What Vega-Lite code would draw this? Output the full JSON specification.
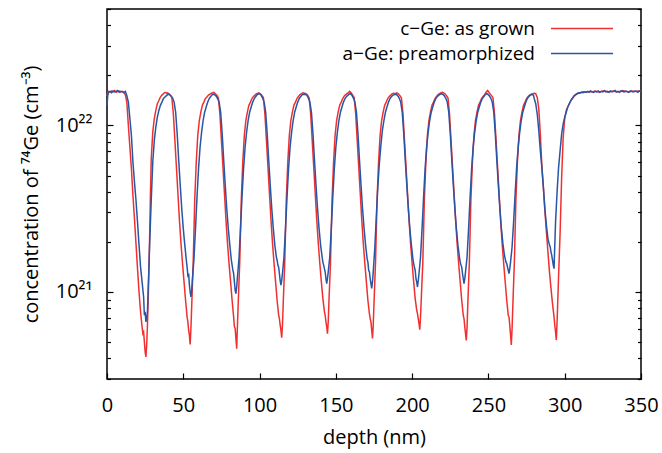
{
"$schema":"https://vega.github.io/schema/vega-lite/v6.json",
"width":534,"height":370,
"autosize":"none",
"padding":{"left":107,"top":9,"right":21,"bottom":74},
"background":"white",
"config":{"font":"Open Sans","view":{"stroke":"#000","strokeWidth":1.5},
"axis":{"domain":false,"grid":false,"labelFontSize":20,"titleFontSize":20,"titleFontWeight":"normal","labelColor":"#000","titleColor":"#000","tickColor":"#000","tickWidth":1.2,"labelFont":"Open Sans","titleFont":"Open Sans"}},
"datasets":{
"ge_c":[
{"depth":0,"conc":1.50e22},{"depth":0.5,"conc":1.57e22},{"depth":1,"conc":1.60e22},{"depth":2,"conc":1.58e22},{"depth":3,"conc":1.61e22},{"depth":4,"conc":1.59e22},{"depth":5,"conc":1.62e22},{"depth":6,"conc":1.58e22},{"depth":7,"conc":1.60e22},{"depth":8,"conc":1.61e22},{"depth":9,"conc":1.59e22},{"depth":10,"conc":1.60e22},{"depth":11,"conc":1.57e22},{"depth":12,"conc":1.53e22},{"depth":13,"conc":1.38e22},{"depth":14,"conc":1.00e22},{"depth":15,"conc":7.41e21},{"depth":16,"conc":5.50e21},{"depth":17,"conc":3.80e21},{"depth":18,"conc":2.75e21},{"depth":19,"conc":1.95e21},{"depth":20,"conc":1.38e21},{"depth":21,"conc":1.00e21},{"depth":22,"conc":7.59e20},{"depth":23,"conc":6.17e20},{"depth":23.5,"conc":5.62e20},{"depth":24,"conc":5.75e20},{"depth":24.5,"conc":5.01e20},{"depth":25,"conc":4.37e20},{"depth":25.5,"conc":4.07e20},{"depth":26,"conc":4.79e20},{"depth":26.5,"conc":6.31e20},{"depth":27,"conc":8.91e20},{"depth":27.5,"conc":1.41e21},{"depth":28,"conc":2.24e21},{"depth":28.5,"conc":3.98e21},{"depth":29,"conc":6.31e21},{"depth":30,"conc":9.12e21},{"depth":31,"conc":1.10e22},{"depth":32,"conc":1.23e22},{"depth":33,"conc":1.35e22},{"depth":34,"conc":1.41e22},{"depth":35,"conc":1.48e22},{"depth":36,"conc":1.52e22},{"depth":37,"conc":1.55e22},{"depth":38,"conc":1.58e22},{"depth":39,"conc":1.56e22},
{"depth":39.5,"conc":1.57e22},{"depth":40.5,"conc":1.55e22},{"depth":41.5,"conc":1.52e22},{"depth":42.5,"conc":1.47e22},{"depth":43.5,"conc":1.17e22},{"depth":44.5,"conc":8.13e21},{"depth":45.5,"conc":5.62e21},{"depth":46.5,"conc":3.89e21},{"depth":47.5,"conc":2.69e21},{"depth":48.5,"conc":1.95e21},{"depth":49.5,"conc":1.48e21},{"depth":50.5,"conc":1.15e21},{"depth":51.5,"conc":8.91e20},{"depth":52.5,"conc":7.08e20},{"depth":53,"conc":6.61e20},{"depth":53.5,"conc":5.89e20},{"depth":54,"conc":5.50e20},{"depth":54.5,"conc":4.84e20},{"depth":55,"conc":6.03e20},{"depth":55.5,"conc":8.13e20},{"depth":56.5,"conc":1.51e21},{"depth":57.5,"conc":3.55e21},{"depth":58.5,"conc":6.03e21},{"depth":59.5,"conc":8.71e21},{"depth":60.5,"conc":1.07e22},{"depth":61.5,"conc":1.20e22},{"depth":62.5,"conc":1.32e22},{"depth":63.5,"conc":1.38e22},{"depth":64.5,"conc":1.45e22},{"depth":65.5,"conc":1.48e22},{"depth":66.5,"conc":1.52e22},{"depth":67.5,"conc":1.54e22},{"depth":68.5,"conc":1.56e22},
{"depth":70,"conc":1.58e22},{"depth":71,"conc":1.55e22},{"depth":72,"conc":1.52e22},{"depth":73,"conc":1.46e22},{"depth":74,"conc":1.17e22},{"depth":75,"conc":8.13e21},{"depth":76,"conc":5.62e21},{"depth":77,"conc":3.89e21},{"depth":78,"conc":2.69e21},{"depth":79,"conc":1.95e21},{"depth":80,"conc":1.48e21},{"depth":81,"conc":1.15e21},{"depth":82,"conc":8.91e20},{"depth":83,"conc":7.08e20},{"depth":83.5,"conc":6.17e20},{"depth":84,"conc":6.03e20},{"depth":84.5,"conc":5.25e20},{"depth":85,"conc":4.56e20},{"depth":85.5,"conc":6.31e20},{"depth":86,"conc":8.51e20},{"depth":87,"conc":1.51e21},{"depth":88,"conc":3.55e21},{"depth":89,"conc":6.03e21},{"depth":90,"conc":8.71e21},{"depth":91,"conc":1.07e22},{"depth":92,"conc":1.20e22},{"depth":93,"conc":1.32e22},{"depth":94,"conc":1.38e22},{"depth":95,"conc":1.45e22},{"depth":96,"conc":1.49e22},{"depth":97,"conc":1.52e22},{"depth":98,"conc":1.55e22},{"depth":99,"conc":1.56e22},
{"depth":99.5,"conc":1.57e22},{"depth":100.5,"conc":1.55e22},{"depth":101.5,"conc":1.51e22},{"depth":102.5,"conc":1.47e22},{"depth":103.5,"conc":1.17e22},{"depth":104.5,"conc":8.13e21},{"depth":105.5,"conc":5.62e21},{"depth":106.5,"conc":3.89e21},{"depth":107.5,"conc":2.69e21},{"depth":108.5,"conc":1.95e21},{"depth":109.5,"conc":1.48e21},{"depth":110.5,"conc":1.15e21},{"depth":111.5,"conc":8.91e20},{"depth":112.5,"conc":7.24e20},{"depth":113,"conc":6.92e20},{"depth":113.5,"conc":6.31e20},{"depth":114,"conc":5.89e20},{"depth":114.5,"conc":5.31e20},{"depth":115,"conc":6.31e20},{"depth":115.5,"conc":8.51e20},{"depth":116.5,"conc":1.51e21},{"depth":117.5,"conc":3.55e21},{"depth":118.5,"conc":6.03e21},{"depth":119.5,"conc":8.71e21},{"depth":120.5,"conc":1.07e22},{"depth":121.5,"conc":1.20e22},{"depth":122.5,"conc":1.32e22},{"depth":123.5,"conc":1.38e22},{"depth":124.5,"conc":1.45e22},{"depth":125.5,"conc":1.49e22},{"depth":126.5,"conc":1.53e22},{"depth":127.5,"conc":1.55e22},{"depth":128.5,"conc":1.57e22},
{"depth":129.5,"conc":1.56e22},{"depth":130.5,"conc":1.55e22},{"depth":131.5,"conc":1.52e22},{"depth":132.5,"conc":1.46e22},{"depth":133.5,"conc":1.17e22},{"depth":134.5,"conc":8.13e21},{"depth":135.5,"conc":5.62e21},{"depth":136.5,"conc":3.89e21},{"depth":137.5,"conc":2.69e21},{"depth":138.5,"conc":1.95e21},{"depth":139.5,"conc":1.48e21},{"depth":140.5,"conc":1.15e21},{"depth":141.5,"conc":9.12e20},{"depth":142.5,"conc":7.59e20},{"depth":143,"conc":7.24e20},{"depth":143.5,"conc":6.61e20},{"depth":144,"conc":6.17e20},{"depth":144.5,"conc":5.62e20},{"depth":145,"conc":6.61e20},{"depth":145.5,"conc":8.91e20},{"depth":146.5,"conc":1.51e21},{"depth":147.5,"conc":3.55e21},{"depth":148.5,"conc":6.03e21},{"depth":149.5,"conc":8.71e21},{"depth":150.5,"conc":1.07e22},{"depth":151.5,"conc":1.20e22},{"depth":152.5,"conc":1.32e22},{"depth":153.5,"conc":1.38e22},{"depth":154.5,"conc":1.45e22},{"depth":155.5,"conc":1.50e22},{"depth":156.5,"conc":1.53e22},{"depth":157.5,"conc":1.56e22},{"depth":158.5,"conc":1.58e22},
{"depth":159,"conc":1.60e22},{"depth":160,"conc":1.57e22},{"depth":161,"conc":1.52e22},{"depth":162,"conc":1.47e22},{"depth":163,"conc":1.17e22},{"depth":164,"conc":8.13e21},{"depth":165,"conc":5.62e21},{"depth":166,"conc":3.89e21},{"depth":167,"conc":2.69e21},{"depth":168,"conc":1.95e21},{"depth":169,"conc":1.48e21},{"depth":170,"conc":1.15e21},{"depth":171,"conc":8.91e20},{"depth":172,"conc":7.41e20},{"depth":172.5,"conc":6.92e20},{"depth":173,"conc":6.61e20},{"depth":173.5,"conc":5.89e20},{"depth":174,"conc":5.25e20},{"depth":174.5,"conc":6.31e20},{"depth":175,"conc":8.51e20},{"depth":176,"conc":1.51e21},{"depth":177,"conc":3.55e21},{"depth":178,"conc":6.03e21},{"depth":179,"conc":8.71e21},{"depth":180,"conc":1.07e22},{"depth":181,"conc":1.20e22},{"depth":182,"conc":1.32e22},{"depth":183,"conc":1.38e22},{"depth":184,"conc":1.45e22},{"depth":185,"conc":1.49e22},{"depth":186,"conc":1.52e22},{"depth":187,"conc":1.55e22},{"depth":188,"conc":1.56e22},{"depth":189,"conc":1.55e22},
{"depth":190,"conc":1.57e22},{"depth":191,"conc":1.55e22},{"depth":192,"conc":1.51e22},{"depth":193,"conc":1.46e22},{"depth":194,"conc":1.17e22},{"depth":195,"conc":8.13e21},{"depth":196,"conc":5.62e21},{"depth":197,"conc":3.89e21},{"depth":198,"conc":2.69e21},{"depth":199,"conc":1.95e21},{"depth":200,"conc":1.48e21},{"depth":201,"conc":1.15e21},{"depth":202,"conc":9.12e20},{"depth":203,"conc":7.76e20},{"depth":203.5,"conc":7.41e20},{"depth":204,"conc":6.92e20},{"depth":204.5,"conc":6.46e20},{"depth":205,"conc":5.93e20},{"depth":205.5,"conc":7.08e20},{"depth":206,"conc":9.12e20},{"depth":207,"conc":1.51e21},{"depth":208,"conc":3.55e21},{"depth":209,"conc":6.03e21},{"depth":210,"conc":8.71e21},{"depth":211,"conc":1.07e22},{"depth":212,"conc":1.20e22},{"depth":213,"conc":1.32e22},{"depth":214,"conc":1.38e22},{"depth":215,"conc":1.45e22},{"depth":216,"conc":1.49e22},{"depth":217,"conc":1.53e22},{"depth":218,"conc":1.55e22},{"depth":219,"conc":1.57e22},{"depth":220,"conc":1.58e22},
{"depth":221.5,"conc":1.55e22},{"depth":222.5,"conc":1.51e22},{"depth":223.5,"conc":1.46e22},{"depth":224.5,"conc":1.17e22},{"depth":225.5,"conc":8.13e21},{"depth":226.5,"conc":5.62e21},{"depth":227.5,"conc":3.89e21},{"depth":228.5,"conc":2.69e21},{"depth":229.5,"conc":1.95e21},{"depth":230.5,"conc":1.48e21},{"depth":231.5,"conc":1.15e21},{"depth":232.5,"conc":8.91e20},{"depth":233.5,"conc":7.24e20},{"depth":234,"conc":6.92e20},{"depth":234.5,"conc":6.17e20},{"depth":235,"conc":5.62e20},{"depth":235.5,"conc":5.12e20},{"depth":236,"conc":6.17e20},{"depth":236.5,"conc":8.51e20},{"depth":237.5,"conc":1.51e21},{"depth":238.5,"conc":3.55e21},{"depth":239.5,"conc":6.03e21},{"depth":240.5,"conc":8.71e21},{"depth":241.5,"conc":1.07e22},{"depth":242.5,"conc":1.20e22},{"depth":243.5,"conc":1.32e22},{"depth":244.5,"conc":1.38e22},{"depth":245.5,"conc":1.45e22},{"depth":246.5,"conc":1.49e22},{"depth":247.5,"conc":1.53e22},{"depth":248.5,"conc":1.58e22},{"depth":249.5,"conc":1.62e22},
{"depth":250.5,"conc":1.57e22},{"depth":251.5,"conc":1.53e22},{"depth":252.5,"conc":1.49e22},{"depth":253,"conc":1.46e22},{"depth":254,"conc":1.17e22},{"depth":255,"conc":8.13e21},{"depth":256,"conc":5.62e21},{"depth":257,"conc":3.89e21},{"depth":258,"conc":2.69e21},{"depth":259,"conc":1.95e21},{"depth":260,"conc":1.48e21},{"depth":261,"conc":1.15e21},{"depth":262,"conc":8.91e20},{"depth":263,"conc":7.24e20},{"depth":263.5,"conc":7.08e20},{"depth":264,"conc":6.31e20},{"depth":264.5,"conc":5.50e20},{"depth":265,"conc":4.80e20},{"depth":265.5,"conc":6.03e20},{"depth":266,"conc":8.32e20},{"depth":267,"conc":1.51e21},{"depth":268,"conc":3.55e21},{"depth":269,"conc":6.03e21},{"depth":270,"conc":8.71e21},{"depth":271,"conc":1.07e22},{"depth":272,"conc":1.20e22},{"depth":273,"conc":1.32e22},{"depth":274,"conc":1.38e22},{"depth":275,"conc":1.45e22},{"depth":276,"conc":1.49e22},{"depth":277,"conc":1.52e22},{"depth":278,"conc":1.54e22},{"depth":279,"conc":1.55e22},
{"depth":280,"conc":1.56e22},{"depth":281,"conc":1.55e22},{"depth":282,"conc":1.47e22},{"depth":283,"conc":1.26e22},{"depth":284,"conc":8.91e21},{"depth":285,"conc":5.75e21},{"depth":286,"conc":4.27e21},{"depth":287,"conc":3.09e21},{"depth":288,"conc":2.29e21},{"depth":289,"conc":1.74e21},{"depth":290,"conc":1.32e21},{"depth":291,"conc":1.05e21},{"depth":292,"conc":8.51e20},{"depth":293,"conc":7.08e20},{"depth":293.5,"conc":6.31e20},{"depth":294,"conc":5.75e20},{"depth":294.5,"conc":5.14e20},{"depth":295,"conc":6.61e20},{"depth":295.5,"conc":9.12e20},{"depth":296,"conc":1.26e21},{"depth":297,"conc":2.29e21},{"depth":298,"conc":4.90e21},{"depth":299,"conc":8.51e21},{"depth":300,"conc":1.10e22},{"depth":301,"conc":1.23e22},{"depth":302,"conc":1.29e22},{"depth":303,"conc":1.35e22},{"depth":304,"conc":1.41e22},{"depth":305,"conc":1.45e22},{"depth":306,"conc":1.49e22},{"depth":307,"conc":1.52e22},{"depth":308,"conc":1.54e22},{"depth":309,"conc":1.56e22},{"depth":310,"conc":1.57e22},
{"depth":312,"conc":1.59e22},{"depth":314,"conc":1.58e22},{"depth":316,"conc":1.60e22},{"depth":318,"conc":1.59e22},{"depth":320,"conc":1.61e22},{"depth":322,"conc":1.59e22},{"depth":324,"conc":1.60e22},{"depth":326,"conc":1.62e22},{"depth":328,"conc":1.59e22},{"depth":330,"conc":1.60e22},{"depth":332,"conc":1.61e22},{"depth":334,"conc":1.59e22},{"depth":336,"conc":1.60e22},{"depth":338,"conc":1.62e22},{"depth":340,"conc":1.60e22},{"depth":342,"conc":1.59e22},{"depth":344,"conc":1.61e22},{"depth":346,"conc":1.60e22},{"depth":348,"conc":1.61e22},{"depth":350,"conc":1.60e22}
],
"ge_a":[
{"depth":0,"conc":1.32e22},{"depth":0.5,"conc":1.51e22},{"depth":1,"conc":1.58e22},{"depth":2,"conc":1.60e22},{"depth":3,"conc":1.57e22},{"depth":4,"conc":1.61e22},{"depth":5,"conc":1.59e22},{"depth":6,"conc":1.60e22},{"depth":7,"conc":1.62e22},{"depth":8,"conc":1.58e22},{"depth":9,"conc":1.60e22},{"depth":10,"conc":1.59e22},{"depth":11,"conc":1.58e22},{"depth":12,"conc":1.60e22},{"depth":13,"conc":1.51e22},{"depth":14,"conc":1.38e22},{"depth":15,"conc":1.10e22},{"depth":16,"conc":8.71e21},{"depth":17,"conc":6.03e21},{"depth":18,"conc":4.57e21},{"depth":19,"conc":3.55e21},{"depth":20,"conc":2.63e21},{"depth":21,"conc":1.91e21},{"depth":22,"conc":1.41e21},{"depth":23,"conc":1.15e21},{"depth":24,"conc":9.33e20},{"depth":24.5,"conc":7.24e20},{"depth":25,"conc":7.59e20},{"depth":25.5,"conc":6.61e20},{"depth":26,"conc":6.92e20},{"depth":26.5,"conc":7.59e20},{"depth":27,"conc":1.05e21},{"depth":27.5,"conc":1.41e21},{"depth":28,"conc":2.00e21},{"depth":29,"conc":3.55e21},{"depth":30,"conc":6.03e21},{"depth":31,"conc":8.13e21},{"depth":32,"conc":9.77e21},{"depth":33,"conc":1.12e22},{"depth":34,"conc":1.23e22},{"depth":35,"conc":1.32e22},{"depth":36,"conc":1.38e22},{"depth":37,"conc":1.45e22},{"depth":38,"conc":1.48e22},{"depth":39,"conc":1.51e22},
{"depth":40,"conc":1.54e22},{"depth":41,"conc":1.53e22},{"depth":42,"conc":1.50e22},{"depth":43,"conc":1.46e22},{"depth":44,"conc":1.38e22},{"depth":45,"conc":1.20e22},{"depth":46,"conc":8.91e21},{"depth":47,"conc":6.17e21},{"depth":48,"conc":4.37e21},{"depth":49,"conc":3.16e21},{"depth":50,"conc":2.40e21},{"depth":51,"conc":1.91e21},{"depth":52,"conc":1.55e21},{"depth":52.5,"conc":1.41e21},{"depth":53,"conc":1.26e21},{"depth":53.5,"conc":1.29e21},{"depth":54,"conc":1.10e21},{"depth":54.5,"conc":1.00e21},{"depth":55,"conc":9.33e20},{"depth":55.5,"conc":1.02e21},{"depth":56,"conc":1.20e21},{"depth":57,"conc":1.58e21},{"depth":58,"conc":2.40e21},{"depth":59,"conc":3.72e21},{"depth":60,"conc":5.50e21},{"depth":61,"conc":7.41e21},{"depth":62,"conc":9.12e21},{"depth":63,"conc":1.07e22},{"depth":64,"conc":1.20e22},{"depth":65,"conc":1.29e22},{"depth":66,"conc":1.38e22},{"depth":67,"conc":1.45e22},{"depth":68,"conc":1.49e22},{"depth":69,"conc":1.53e22},
{"depth":70,"conc":1.54e22},{"depth":70.5,"conc":1.53e22},{"depth":71.5,"conc":1.50e22},{"depth":72.5,"conc":1.45e22},{"depth":73.5,"conc":1.38e22},{"depth":74.5,"conc":1.20e22},{"depth":75.5,"conc":8.91e21},{"depth":76.5,"conc":6.17e21},{"depth":77.5,"conc":4.37e21},{"depth":78.5,"conc":3.16e21},{"depth":79.5,"conc":2.40e21},{"depth":80.5,"conc":1.91e21},{"depth":81.5,"conc":1.55e21},{"depth":82,"conc":1.45e21},{"depth":82.5,"conc":1.35e21},{"depth":83,"conc":1.29e21},{"depth":83.5,"conc":1.15e21},{"depth":84,"conc":1.02e21},{"depth":84.5,"conc":9.77e20},{"depth":85,"conc":1.07e21},{"depth":85.5,"conc":1.23e21},{"depth":86.5,"conc":1.58e21},{"depth":87.5,"conc":2.40e21},{"depth":88.5,"conc":3.72e21},{"depth":89.5,"conc":5.50e21},{"depth":90.5,"conc":7.41e21},{"depth":91.5,"conc":9.12e21},{"depth":92.5,"conc":1.07e22},{"depth":93.5,"conc":1.20e22},{"depth":94.5,"conc":1.29e22},{"depth":95.5,"conc":1.38e22},{"depth":96.5,"conc":1.45e22},{"depth":97.5,"conc":1.49e22},{"depth":98.5,"conc":1.53e22},
{"depth":99.5,"conc":1.55e22},{"depth":100.5,"conc":1.54e22},{"depth":101,"conc":1.52e22},{"depth":102,"conc":1.46e22},{"depth":103,"conc":1.38e22},{"depth":104,"conc":1.20e22},{"depth":105,"conc":8.91e21},{"depth":106,"conc":6.17e21},{"depth":107,"conc":4.37e21},{"depth":108,"conc":3.16e21},{"depth":109,"conc":2.40e21},{"depth":110,"conc":1.91e21},{"depth":111,"conc":1.62e21},{"depth":111.5,"conc":1.55e21},{"depth":112,"conc":1.45e21},{"depth":112.5,"conc":1.41e21},{"depth":113,"conc":1.29e21},{"depth":113.5,"conc":1.17e21},{"depth":114,"conc":1.10e21},{"depth":114.5,"conc":1.17e21},{"depth":115,"conc":1.29e21},{"depth":116,"conc":1.62e21},{"depth":117,"conc":2.40e21},{"depth":118,"conc":3.72e21},{"depth":119,"conc":5.50e21},{"depth":120,"conc":7.41e21},{"depth":121,"conc":9.12e21},{"depth":122,"conc":1.07e22},{"depth":123,"conc":1.20e22},{"depth":124,"conc":1.29e22},{"depth":125,"conc":1.38e22},{"depth":126,"conc":1.45e22},{"depth":127,"conc":1.49e22},{"depth":128,"conc":1.53e22},{"depth":129,"conc":1.54e22},
{"depth":130,"conc":1.53e22},{"depth":131,"conc":1.52e22},{"depth":132,"conc":1.46e22},{"depth":133,"conc":1.38e22},{"depth":134,"conc":1.20e22},{"depth":135,"conc":8.91e21},{"depth":136,"conc":6.17e21},{"depth":137,"conc":4.37e21},{"depth":138,"conc":3.16e21},{"depth":139,"conc":2.40e21},{"depth":140,"conc":1.91e21},{"depth":141,"conc":1.62e21},{"depth":141.5,"conc":1.51e21},{"depth":142,"conc":1.45e21},{"depth":142.5,"conc":1.38e21},{"depth":143,"conc":1.32e21},{"depth":143.5,"conc":1.20e21},{"depth":144,"conc":1.12e21},{"depth":144.5,"conc":1.20e21},{"depth":145,"conc":1.32e21},{"depth":146,"conc":1.62e21},{"depth":147,"conc":2.40e21},{"depth":148,"conc":3.72e21},{"depth":149,"conc":5.50e21},{"depth":150,"conc":7.41e21},{"depth":151,"conc":9.12e21},{"depth":152,"conc":1.07e22},{"depth":153,"conc":1.20e22},{"depth":154,"conc":1.29e22},{"depth":155,"conc":1.38e22},{"depth":156,"conc":1.45e22},{"depth":157,"conc":1.49e22},{"depth":158,"conc":1.52e22},
{"depth":158.5,"conc":1.54e22},{"depth":159.5,"conc":1.55e22},{"depth":160.5,"conc":1.52e22},{"depth":161.5,"conc":1.46e22},{"depth":162.5,"conc":1.38e22},{"depth":163.5,"conc":1.20e22},{"depth":164.5,"conc":8.91e21},{"depth":165.5,"conc":6.17e21},{"depth":166.5,"conc":4.37e21},{"depth":167.5,"conc":3.16e21},{"depth":168.5,"conc":2.40e21},{"depth":169.5,"conc":1.91e21},{"depth":170.5,"conc":1.58e21},{"depth":171,"conc":1.51e21},{"depth":171.5,"conc":1.35e21},{"depth":172,"conc":1.32e21},{"depth":172.5,"conc":1.20e21},{"depth":173,"conc":1.12e21},{"depth":173.5,"conc":1.05e21},{"depth":174,"conc":1.15e21},{"depth":174.5,"conc":1.32e21},{"depth":175.5,"conc":1.82e21},{"depth":176.5,"conc":2.82e21},{"depth":177.5,"conc":4.27e21},{"depth":178.5,"conc":5.89e21},{"depth":179.5,"conc":7.59e21},{"depth":180.5,"conc":9.33e21},{"depth":181.5,"conc":1.07e22},{"depth":182.5,"conc":1.20e22},{"depth":183.5,"conc":1.29e22},{"depth":184.5,"conc":1.38e22},{"depth":185.5,"conc":1.45e22},{"depth":186.5,"conc":1.49e22},{"depth":187.5,"conc":1.52e22},
{"depth":188.5,"conc":1.53e22},{"depth":189.5,"conc":1.54e22},{"depth":190.5,"conc":1.51e22},{"depth":191.5,"conc":1.46e22},{"depth":192.5,"conc":1.38e22},{"depth":193.5,"conc":1.20e22},{"depth":194.5,"conc":8.91e21},{"depth":195.5,"conc":6.17e21},{"depth":196.5,"conc":4.37e21},{"depth":197.5,"conc":3.16e21},{"depth":198.5,"conc":2.40e21},{"depth":199.5,"conc":1.91e21},{"depth":200.5,"conc":1.58e21},{"depth":201,"conc":1.48e21},{"depth":201.5,"conc":1.41e21},{"depth":202,"conc":1.35e21},{"depth":202.5,"conc":1.20e21},{"depth":203,"conc":1.15e21},{"depth":203.5,"conc":1.07e21},{"depth":204,"conc":1.17e21},{"depth":204.5,"conc":1.29e21},{"depth":205.5,"conc":1.62e21},{"depth":206.5,"conc":2.40e21},{"depth":207.5,"conc":3.72e21},{"depth":208.5,"conc":5.50e21},{"depth":209.5,"conc":7.41e21},{"depth":210.5,"conc":9.12e21},{"depth":211.5,"conc":1.07e22},{"depth":212.5,"conc":1.20e22},{"depth":213.5,"conc":1.29e22},{"depth":214.5,"conc":1.38e22},{"depth":215.5,"conc":1.45e22},{"depth":216.5,"conc":1.49e22},{"depth":217.5,"conc":1.52e22},{"depth":218.5,"conc":1.54e22},
{"depth":219,"conc":1.55e22},{"depth":220,"conc":1.54e22},{"depth":221,"conc":1.51e22},{"depth":222,"conc":1.46e22},{"depth":223,"conc":1.38e22},{"depth":224,"conc":1.20e22},{"depth":225,"conc":8.91e21},{"depth":226,"conc":6.17e21},{"depth":227,"conc":4.37e21},{"depth":228,"conc":3.16e21},{"depth":229,"conc":2.40e21},{"depth":230,"conc":1.91e21},{"depth":231,"conc":1.62e21},{"depth":231.5,"conc":1.51e21},{"depth":232,"conc":1.45e21},{"depth":232.5,"conc":1.41e21},{"depth":233,"conc":1.29e21},{"depth":233.5,"conc":1.20e21},{"depth":234,"conc":1.12e21},{"depth":234.5,"conc":1.20e21},{"depth":235,"conc":1.32e21},{"depth":236,"conc":1.62e21},{"depth":237,"conc":2.40e21},{"depth":238,"conc":3.72e21},{"depth":239,"conc":5.50e21},{"depth":240,"conc":7.41e21},{"depth":241,"conc":9.12e21},{"depth":242,"conc":1.07e22},{"depth":243,"conc":1.20e22},{"depth":244,"conc":1.29e22},{"depth":245,"conc":1.38e22},{"depth":246,"conc":1.45e22},{"depth":247,"conc":1.49e22},{"depth":248,"conc":1.53e22},
{"depth":249,"conc":1.55e22},{"depth":249.5,"conc":1.54e22},{"depth":250.5,"conc":1.51e22},{"depth":251.5,"conc":1.46e22},{"depth":252.5,"conc":1.38e22},{"depth":253.5,"conc":1.20e22},{"depth":254.5,"conc":8.91e21},{"depth":255.5,"conc":6.17e21},{"depth":256.5,"conc":4.37e21},{"depth":257.5,"conc":3.16e21},{"depth":258.5,"conc":2.40e21},{"depth":259.5,"conc":1.95e21},{"depth":260.5,"conc":1.66e21},{"depth":261,"conc":1.58e21},{"depth":261.5,"conc":1.51e21},{"depth":262,"conc":1.48e21},{"depth":262.5,"conc":1.41e21},{"depth":263,"conc":1.35e21},{"depth":263.5,"conc":1.29e21},{"depth":264,"conc":1.38e21},{"depth":264.5,"conc":1.51e21},{"depth":265.5,"conc":1.86e21},{"depth":266.5,"conc":2.63e21},{"depth":267.5,"conc":3.89e21},{"depth":268.5,"conc":5.62e21},{"depth":269.5,"conc":7.41e21},{"depth":270.5,"conc":9.12e21},{"depth":271.5,"conc":1.07e22},{"depth":272.5,"conc":1.20e22},{"depth":273.5,"conc":1.29e22},{"depth":274.5,"conc":1.38e22},{"depth":275.5,"conc":1.45e22},{"depth":276.5,"conc":1.49e22},{"depth":277.5,"conc":1.52e22},{"depth":278.5,"conc":1.53e22},
{"depth":279.5,"conc":1.52e22},{"depth":280,"conc":1.45e22},{"depth":281,"conc":1.35e22},{"depth":282,"conc":1.17e22},{"depth":283,"conc":9.33e21},{"depth":284,"conc":7.08e21},{"depth":285,"conc":5.62e21},{"depth":286,"conc":4.27e21},{"depth":287,"conc":3.16e21},{"depth":288,"conc":2.51e21},{"depth":289,"conc":2.09e21},{"depth":290,"conc":1.91e21},{"depth":290.5,"conc":1.86e21},{"depth":291,"conc":1.74e21},{"depth":291.5,"conc":1.66e21},{"depth":292,"conc":1.55e21},{"depth":292.5,"conc":1.45e21},{"depth":293,"conc":1.38e21},{"depth":293.5,"conc":1.91e21},{"depth":294,"conc":2.63e21},{"depth":295,"conc":3.98e21},{"depth":296,"conc":5.62e21},{"depth":297,"conc":7.08e21},{"depth":298,"conc":8.91e21},{"depth":299,"conc":1.02e22},{"depth":300,"conc":1.12e22},{"depth":301,"conc":1.20e22},{"depth":302,"conc":1.29e22},{"depth":303,"conc":1.35e22},{"depth":304,"conc":1.41e22},{"depth":305,"conc":1.45e22},{"depth":306,"conc":1.50e22},{"depth":307,"conc":1.53e22},{"depth":308,"conc":1.55e22},{"depth":309,"conc":1.57e22},
{"depth":310,"conc":1.56e22},{"depth":311,"conc":1.58e22},{"depth":312,"conc":1.57e22},{"depth":313,"conc":1.59e22},{"depth":314,"conc":1.58e22},{"depth":315,"conc":1.60e22},{"depth":316,"conc":1.58e22},{"depth":317,"conc":1.61e22},{"depth":318,"conc":1.59e22},{"depth":319,"conc":1.58e22},{"depth":320,"conc":1.60e22},{"depth":321,"conc":1.59e22},{"depth":322,"conc":1.61e22},{"depth":323,"conc":1.58e22},{"depth":324,"conc":1.60e22},{"depth":325,"conc":1.59e22},{"depth":326,"conc":1.61e22},{"depth":327,"conc":1.59e22},{"depth":328,"conc":1.60e22},{"depth":329,"conc":1.58e22},{"depth":330,"conc":1.61e22},{"depth":331,"conc":1.59e22},{"depth":332,"conc":1.60e22},{"depth":333,"conc":1.62e22},{"depth":334,"conc":1.59e22},{"depth":335,"conc":1.60e22},{"depth":336,"conc":1.58e22},{"depth":337,"conc":1.61e22},{"depth":338,"conc":1.60e22},{"depth":339,"conc":1.59e22},{"depth":340,"conc":1.61e22},{"depth":341,"conc":1.60e22},{"depth":342,"conc":1.58e22},{"depth":343,"conc":1.61e22},{"depth":344,"conc":1.60e22},{"depth":345,"conc":1.59e22},{"depth":346,"conc":1.61e22},{"depth":347,"conc":1.60e22},{"depth":348,"conc":1.58e22},{"depth":349,"conc":1.61e22},{"depth":350,"conc":1.60e22}
]
},
"encoding":{"x":{"field":"depth","type":"quantitative","scale":{"domain":[0,350],"nice":false,"zero":false},
"axis":{"values":[0,50,100,150,200,250,300,350],"tickSize":-6,"labelPadding":22,"title":"depth (nm)","titlePadding":12,"labelFlush":false,"labelOverlap":false}}},
"layer":[
{"data":{"name":"ge_c"},"mark":{"type":"line","strokeWidth":1.5},
"encoding":{
"y":{"field":"conc","type":"quantitative","scale":{"type":"log","domain":[3e20,5e22],"nice":false},
"axis":{"orient":"left","values":[3e20,4e20,5e20,6e20,7e20,8e20,9e20,1e21,2e21,3e21,4e21,5e21,6e21,7e21,8e21,9e21,1e22,2e22,3e22,4e22,5e22],
"labelExpr":"datum.value === 1e21 ? '10²¹' : (datum.value === 1e22 ? '10²²' : '')",
"tickSize":{"condition":{"test":"datum.value === 1e21 || datum.value === 1e22","value":-6},"value":-3.5},
"labelAlign":"right","labelBaseline":"middle",
"labelPadding":21,"labelOverlap":false,"labelFlush":false,"title":"concentration of ⁷⁴Ge (cm⁻³)","titlePadding":14}},
"color":{"datum":"c−Ge: as grown","type":"nominal","scale":{"domain":["c−Ge: as grown","a−Ge: preamorphized"],"range":["#f03030","#2756a6"]},
"legend":{"title":null,"orient":"none","legendX":463.5,"legendY":8,"symbolType":"M-3,0H3","symbolSize":427,"symbolStrokeWidth":1.5,"labelAlign":"right","labelOffset":-58.5,"labelFontSize":19,"labelFont":"Open Sans","labelColor":"#000","rowPadding":3,"padding":0,"labelLimit":400}}}},
{"data":{"name":"ge_a"},"mark":{"type":"line","strokeWidth":1.5},
"encoding":{
"y":{"field":"conc","type":"quantitative","scale":{"type":"log","domain":[3e20,5e22],"nice":false},
"axis":{"orient":"right","values":[3e20,4e20,5e20,6e20,7e20,8e20,9e20,1e21,2e21,3e21,4e21,5e21,6e21,7e21,8e21,9e21,1e22,2e22,3e22,4e22,5e22],
"labels":false,"title":null,
"tickSize":{"condition":{"test":"datum.value === 1e21 || datum.value === 1e22","value":-6},"value":-3.5}}},
"color":{"datum":"a−Ge: preamorphized","type":"nominal"}}}
],
"resolve":{"axis":{"y":"independent"}}
}
